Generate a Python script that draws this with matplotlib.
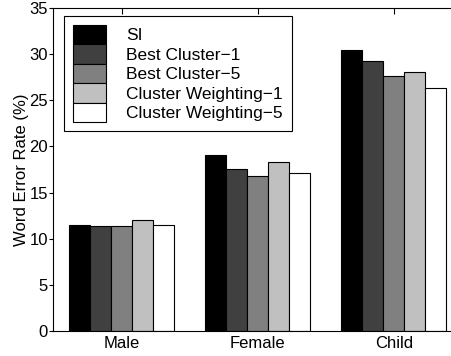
import numpy as np
import matplotlib.pyplot as plt

# data
groups = ['Male', 'Female', 'Child']
series = ['SI', 'Best Cluster\u22121', 'Best Cluster\u22125',
          'Cluster Weighting\u22121', 'Cluster Weighting\u22125']
si = [11.5, 19.1, 30.5]
best1 = [11.4, 17.6, 29.3]
best5 = [11.4, 16.8, 27.6]
cw1 = [12.0, 18.3, 28.1]
cw5 = [11.5, 17.1, 26.3]
colors = ['#000000', '#404040', '#808080', '#c0c0c0', '#ffffff']

plt.rcParams['font.family'] = ['Liberation Sans', 'DejaVu Sans']

fig = plt.figure(figsize=(4.52, 3.56), dpi=100)
# axes run past the right edge of the picture, like the original crop
ax = fig.add_axes([53.5 / 452, 1 - 330.7 / 356, (462 - 53.5) / 452, (330.7 - 8.3) / 356])

x = np.arange(1, len(groups) + 1)
w = 0.154
for i, (vals, name) in enumerate(zip([si, best1, best5, cw1, cw5], series)):
    ax.bar(x + (i - 2) * w, vals, w, color=colors[i], edgecolor='black',
           linewidth=0.8, label=name, zorder=2)

ax.set_xlim(0.5, 3.5)
ax.set_ylim(0, 35)
ax.set_xticks(x)
ax.set_xticklabels(groups)
ax.set_yticks(range(0, 36, 5))
ax.tick_params(axis='x', direction='in', top=True, length=4, labelsize=12, pad=4)
ax.tick_params(axis='y', direction='out', length=3, labelsize=12, pad=1)
for s in ax.spines.values():
    s.set_linewidth(0.8)
ax.set_ylabel('Word Error Rate (%)', fontsize=12, labelpad=0.5)

leg = ax.legend(loc='upper left', bbox_to_anchor=(10.5 / 408.5, 1 - 7.7 / 322.4),
                fontsize=12.5, handlelength=1.9, handleheight=1.35, labelspacing=0.0,
                handletextpad=1.2, borderpad=0.5, borderaxespad=0, fancybox=False,
                framealpha=1, edgecolor='black')
leg.get_frame().set_linewidth(0.8)

fig.savefig('out.png', dpi=100)
